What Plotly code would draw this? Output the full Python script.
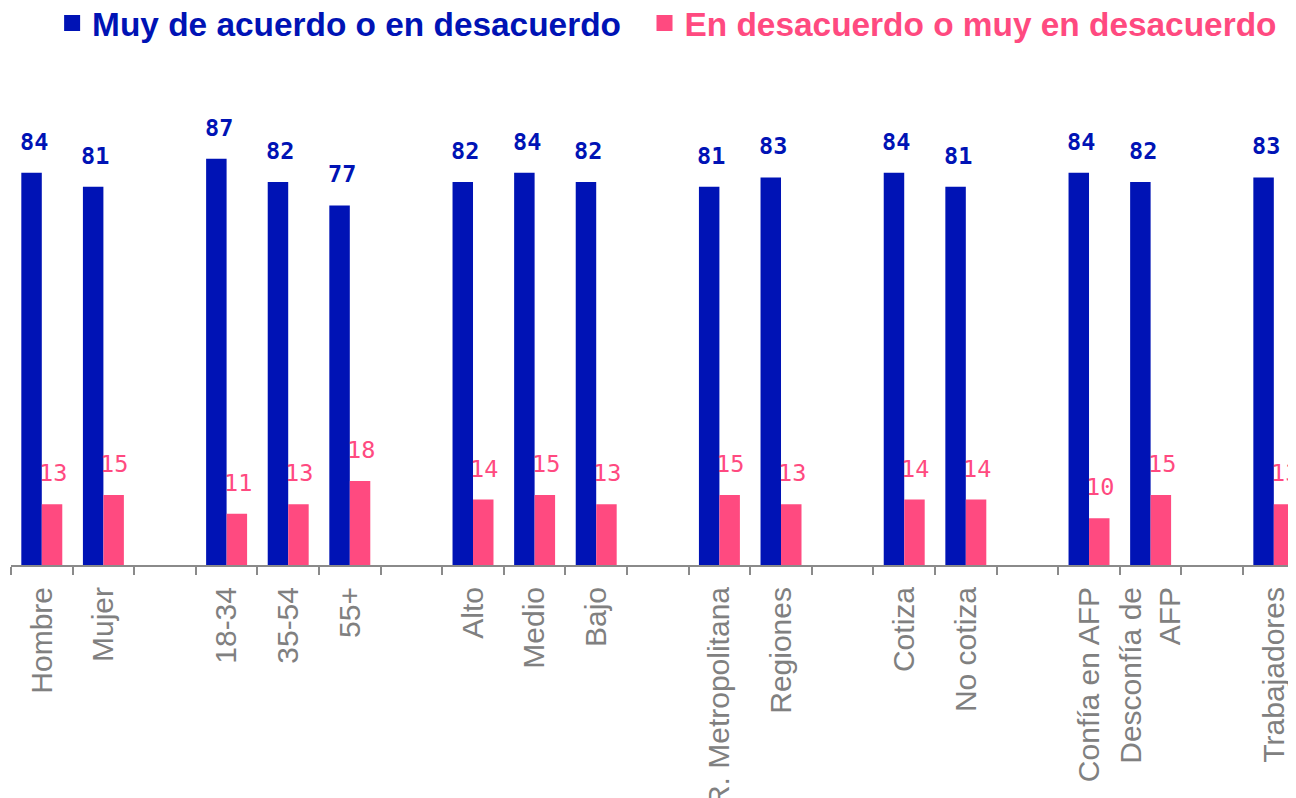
import plotly.graph_objects as go

categories = ["Hombre", "Mujer", " ", "18-34", "35-54", "55+", "  ", "Alto", "Medio", "Bajo", "   ",
              "R. Metropolitana", "Regiones", "    ", "Cotiza", "No cotiza", "     ",
              "Confía en AFP", "Desconfía de<br>AFP", "      ", "Trabajadores"]
acuerdo = [84, 81, None, 87, 82, 77, None, 82, 84, 82, None, 81, 83, None, 84, 81, None, 84, 82, None, 83]
desacuerdo = [13, 15, None, 11, 13, 18, None, 14, 15, 13, None, 15, 13, None, 14, 14, None, 10, 15, None, 13]

series_names = ["Muy de acuerdo o en desacuerdo", "En desacuerdo o muy en desacuerdo"]
BLUE = "#0013B5"
PINK = "#FF4A80"

fig = go.Figure()
fig.add_trace(go.Bar(x=categories, y=acuerdo, name=series_names[0], showlegend=False,
                     marker=dict(color=BLUE, line=dict(width=0))))
fig.add_trace(go.Bar(x=categories, y=desacuerdo, name=series_names[1], showlegend=False,
                     marker=dict(color=PINK, line=dict(width=0))))

# legend entries (square swatches)
pads = ["\u00a0\u00a0", ""]
for nm, col, pad in zip(series_names, [BLUE, PINK], pads):
    fig.add_trace(go.Scatter(x=[None], y=[None], mode="markers", showlegend=True,
                             name=f"<span style='color:{col}'><b>{nm}</b></span>{pad}",
                             marker=dict(symbol="square", size=16, color=col)))

annotations = []
for vals, col, shift, bold in [(acuerdo, BLUE, -8, True), (desacuerdo, PINK, 11, False)]:
    for c, v in zip(categories, vals):
        if v is None:
            continue
        txt = f"<b>{v}</b>" if bold else str(v)
        annotations.append(dict(x=c, y=v, xref="x", yref="y", text=txt, showarrow=False,
                                xshift=shift, yshift=15, yanchor="bottom",
                                font=dict(family="DejaVu Sans Mono", size=23.5, color=col)))

# page body has an 8px margin: size the figure so the plot lands where the reference has it
fig.update_layout(
    width=1288, height=790,
    margin=dict(l=3, r=0, t=90, b=233, autoexpand=False),
    paper_bgcolor="white", plot_bgcolor="white",
    barmode="group", bargap=0.335, bargroupgap=0,
    showlegend=True,
    legend=dict(orientation="h", x=0.032, y=1.16, xanchor="left", yanchor="middle",
                font=dict(family="Liberation Sans", size=33.4, color=BLUE),
                itemwidth=30, itemsizing="trace",
                bgcolor="rgba(0,0,0,0)"),
    annotations=annotations,
    xaxis=dict(type="category", range=[-0.5, 20.36], tickson="boundaries", ticks="outside",
               ticklen=8, tickwidth=2, tickcolor="#8A8A8A", showline=True, linecolor="#8A8A8A",
               linewidth=2, tickangle=-90, ticklabelstandoff=8,
               tickfont=dict(family="Liberation Sans", size=30, color="#808080"),
               showgrid=False, automargin=False),
    yaxis=dict(range=[0, 100], visible=False, showgrid=False, zeroline=False),
)
fig.write_html("out.html")
